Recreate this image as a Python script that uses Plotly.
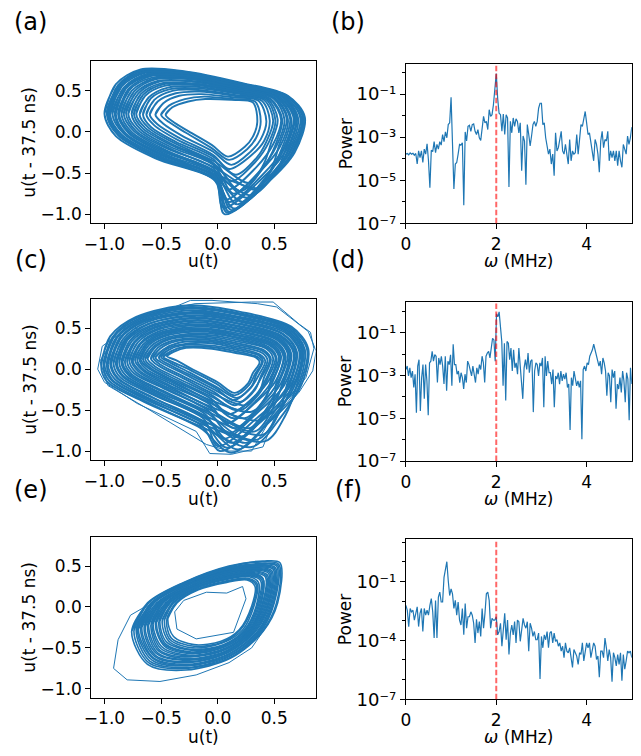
import plotly.graph_objects as go

BLUE = "#1f77b4"
FONT = "DejaVu Sans"
W, H = 641, 756

# ---------------- power spectra: log10(power), evenly spaced over 0..5 MHz ----------------
spec_b_log10 = [
    -3.79, -3.76, -3.82, -3.73, -3.79, -3.75, -3.84, -3.76, -4.25, -3.64,
    -3.95, -3.64, -4.18, -3.56, -3.79, -3.31, -4.10, -5.35, -3.61, -3.67,
    -3.21, -3.72, -3.34, -3.56, -3.21, -3.37, -2.88, -3.21, -2.76, -3.03,
    -2.42, -2.34, -1.15, -3.41, -5.41, -4.25, -4.18, -3.79, -3.34, -3.37,
    -3.26, -6.16, -2.76, -3.18, -2.50, -2.45, -2.73, -2.42, -2.39, -2.73,
    -2.88, -2.65, -3.03, -3.15, -2.50, -2.04, -2.34, -2.27, -2.65, -1.73,
    -2.04, -1.96, -1.50, -0.86, -0.05, -1.20, -1.89, -1.96, -2.73, -1.93,
    -2.88, -1.96, -2.11, -5.32, -2.27, -2.80, -2.11, -2.50, -2.15, -2.27,
    -2.80, -2.34, -4.56, -2.95, -3.18, -5.21, -2.42, -2.88, -3.41, -2.95,
    -2.42, -2.27, -2.50, -2.27, -1.66, -1.43, -1.43, -2.42, -2.34, -3.03,
    -3.49, -3.79, -3.56, -4.25, -3.79, -4.79, -2.80, -3.64, -3.49, -3.03,
    -2.73, -3.64, -3.79, -3.34, -3.72, -4.25, -3.11, -4.10, -3.64, -3.79,
    -3.72, -2.88, -3.79, -3.18, -2.42, -2.50, -2.19, -1.81, -2.34, -2.88,
    -2.80, -3.18, -3.64, -4.10, -3.11, -3.34, -3.79, -4.63, -3.18, -2.73,
    -3.49, -3.11, -3.18, -2.73, -4.10, -3.64, -3.95, -3.64, -4.10, -3.64,
    -4.33, -3.64, -4.10, -4.40, -3.34, -3.64, -3.79, -2.95, -3.34, -3.03,
    -2.54,
]

spec_d_log10 = [
    -2.72, -2.56, -3.02, -2.64, -3.10, -2.79, -3.56, -2.94, -4.74, -2.56,
    -2.26, -4.66, -3.10, -2.49, -4.09, -2.49, -3.25, -4.86, -2.41, -2.33,
    -1.87, -2.33, -2.03, -2.10, -3.33, -2.18, -2.49, -2.10, -2.56, -3.40,
    -2.10, -3.71, -2.33, -2.49, -2.03, -3.48, -1.54, -2.49, -2.49, -2.94,
    -2.79, -3.33, -2.87, -3.10, -3.63, -2.94, -3.33, -2.33, -2.49, -2.79,
    -3.02, -2.56, -3.10, -3.33, -2.64, -2.94, -2.49, -2.72, -2.10, -2.41,
    -3.33, -2.10, -1.95, -1.87, -2.18, -1.72, -1.26, -1.34, -2.33, -0.11,
    -0.26, -0.03, -0.72, -1.41, -3.48, -1.49, -4.17, -1.41, -1.49, -2.26,
    -1.72, -2.79, -1.80, -2.64, -2.41, -2.94, -1.72, -2.49, -2.94, -4.09,
    -2.64, -2.26, -2.72, -1.95, -2.87, -2.33, -2.26, -4.71, -2.79, -2.41,
    -2.49, -3.02, -2.41, -2.56, -2.18, -4.48, -2.10, -3.02, -2.33, -2.87,
    -2.87, -3.40, -2.72, -4.48, -3.02, -3.17, -2.87, -3.40, -2.79, -3.25,
    -2.94, -3.17, -2.87, -3.56, -3.40, -5.55, -3.10, -3.48, -2.79, -3.17,
    -3.48, -3.25, -3.56, -3.25, -5.98, -2.72, -2.56, -2.79, -2.41, -2.49,
    -2.10, -1.95, -1.80, -1.54, -1.80, -2.10, -2.33, -2.56, -2.33, -2.94,
    -2.18, -2.41, -2.79, -3.94, -2.87, -3.02, -4.25, -2.72, -3.10, -2.79,
    -4.55, -3.40, -3.63, -3.10, -3.79, -2.79, -3.25, -4.25, -2.87, -3.17,
    -5.09, -2.64, -3.40,
]

spec_f_log10 = [
    -2.22, -2.47, -3.30, -2.38, -2.55, -2.47, -2.97, -2.55, -2.30, -3.30,
    -2.63, -2.38, -3.55, -2.38, -2.72, -2.47, -2.72, -2.22, -1.88, -2.55,
    -3.88, -1.97, -3.88, -1.80, -1.55, -2.05, -2.05, -0.80, -0.47, 0.00,
    -0.97, -1.72, -1.38, -1.63, -2.38, -1.97, -2.72, -2.05, -2.97, -3.22,
    -2.38, -3.72, -2.13, -3.38, -2.80, -2.80, -2.55, -2.72, -3.13, -4.13,
    -2.93, -3.63, -3.05, -3.80, -2.38, -3.38, -2.63, -1.63, -1.55, -1.97,
    -3.38, -2.88, -2.97, -2.97, -2.80, -3.72, -3.55, -3.13, -4.30, -3.30,
    -2.63, -3.97, -2.97, -4.72, -3.63, -3.22, -3.72, -3.05, -4.13, -2.97,
    -3.05, -4.05, -3.47, -2.88, -3.22, -3.38, -3.05, -4.55, -3.13, -3.38,
    -3.80, -3.55, -3.97, -3.97, -3.63, -5.97, -3.80, -4.38, -3.72, -3.97,
    -3.55, -4.38, -3.63, -3.55, -4.13, -3.63, -4.05, -3.97, -4.30, -4.13,
    -4.55, -4.30, -4.88, -4.13, -4.55, -4.63, -4.38, -4.88, -5.38, -4.47,
    -4.63, -4.80, -5.22, -4.63, -4.72, -4.13, -5.05, -4.63, -4.13, -4.38,
    -4.13, -4.88, -4.38, -4.13, -4.30, -4.97, -4.80, -5.88, -4.55, -4.55,
    -4.88, -3.88, -4.38, -5.05, -4.47, -4.88, -6.10, -4.63, -4.88, -5.30,
    -4.72, -5.22, -4.63, -6.05, -4.72, -5.47, -5.05, -4.55, -4.63, -4.55,
    -4.88,
]

DRIVE_FREQ = 2.0  # MHz, dashed reference line

# ---------------- delay embeddings: loops of (u(t), u(t - 37.5 ns)) ----------------
loops_a = [
    [(-1.00, 0.22), (-0.90, 0.58), (-0.68, 0.76), (-0.30, 0.74), (0.20, 0.60), (0.62, 0.44), (0.77, 0.18), (0.68, -0.25), (0.43, -0.63), (0.06, -1.00), (-0.02, -0.60), (-0.55, -0.32), (-0.90, -0.05)],
    [(-0.81, 0.23), (-0.72, 0.48), (-0.53, 0.62), (-0.23, 0.62), (0.17, 0.53), (0.51, 0.41), (0.62, 0.16), (0.55, -0.18), (0.36, -0.50), (0.07, -0.82), (-0.03, -0.45), (-0.45, -0.20), (-0.72, 0.01)],
    [(-0.95, 0.21), (-0.85, 0.55), (-0.64, 0.72), (-0.28, 0.70), (0.19, 0.58), (0.59, 0.43), (0.73, 0.17), (0.64, -0.23), (0.48, -0.54), (0.22, -0.85), (-0.02, -0.56), (-0.52, -0.29), (-0.85, -0.03)],
    [(-0.63, 0.21), (-0.56, 0.39), (-0.40, 0.50), (-0.17, 0.51), (0.15, 0.45), (0.41, 0.39), (0.49, 0.14), (0.43, -0.12), (0.34, -0.32), (0.16, -0.52), (-0.04, -0.30), (-0.35, -0.10), (-0.56, 0.08)],
    [(-0.88, 0.22), (-0.79, 0.52), (-0.59, 0.68), (-0.26, 0.67), (0.18, 0.55), (0.55, 0.42), (0.68, 0.17), (0.60, -0.21), (0.53, -0.45), (0.38, -0.68), (-0.03, -0.51), (-0.49, -0.25), (-0.79, -0.01)],
    [(-0.97, 0.22), (-0.87, 0.57), (-0.66, 0.74), (-0.29, 0.72), (0.20, 0.59), (0.60, 0.44), (0.75, 0.18), (0.66, -0.24), (0.46, -0.58), (0.14, -0.93), (-0.02, -0.58), (-0.54, -0.30), (-0.87, -0.04)],
    [(-0.74, 0.22), (-0.66, 0.45), (-0.48, 0.58), (-0.21, 0.58), (0.16, 0.50), (0.47, 0.40), (0.57, 0.15), (0.51, -0.16), (0.40, -0.44), (0.20, -0.72), (-0.03, -0.39), (-0.41, -0.16), (-0.66, 0.04)],
    [(-0.85, 0.22), (-0.76, 0.50), (-0.56, 0.65), (-0.25, 0.65), (0.18, 0.54), (0.53, 0.42), (0.65, 0.16), (0.58, -0.20), (0.39, -0.53), (0.10, -0.85), (-0.03, -0.48), (-0.47, -0.23), (-0.76, 0.00)],
    [(-0.46, 0.21), (-0.40, 0.30), (-0.26, 0.37), (-0.11, 0.40), (0.12, 0.39), (0.31, 0.36), (0.35, 0.12), (0.31, -0.06), (0.24, -0.18), (0.09, -0.30), (-0.05, -0.16), (-0.26, 0.01), (-0.40, 0.13)],
    [(-0.91, 0.22), (-0.82, 0.53), (-0.61, 0.70), (-0.27, 0.68), (0.19, 0.56), (0.57, 0.43), (0.70, 0.17), (0.62, -0.22), (0.51, -0.50), (0.30, -0.77), (-0.02, -0.53), (-0.50, -0.27), (-0.82, -0.02)],
    [(-0.98, 0.22), (-0.88, 0.57), (-0.67, 0.75), (-0.29, 0.73), (0.20, 0.59), (0.61, 0.44), (0.76, 0.18), (0.67, -0.24), (0.44, -0.61), (0.10, -0.97), (-0.02, -0.59), (-0.54, -0.31), (-0.88, -0.04)],
    [(-0.69, 0.21), (-0.61, 0.42), (-0.44, 0.54), (-0.19, 0.55), (0.16, 0.48), (0.44, 0.40), (0.53, 0.15), (0.47, -0.14), (0.41, -0.38), (0.28, -0.62), (-0.04, -0.35), (-0.39, -0.13), (-0.61, 0.05)],
    [(-0.79, 0.22), (-0.70, 0.47), (-0.52, 0.61), (-0.22, 0.61), (0.17, 0.52), (0.50, 0.41), (0.61, 0.16), (0.54, -0.17), (0.48, -0.43), (0.34, -0.70), (-0.03, -0.43), (-0.44, -0.19), (-0.70, 0.02)],
    [(-0.93, 0.22), (-0.83, 0.54), (-0.62, 0.71), (-0.27, 0.69), (0.19, 0.57), (0.58, 0.43), (0.71, 0.17), (0.63, -0.22), (0.43, -0.58), (0.12, -0.95), (-0.02, -0.54), (-0.51, -0.28), (-0.83, -0.02)],
    [(-0.55, 0.21), (-0.48, 0.35), (-0.34, 0.44), (-0.14, 0.46), (0.14, 0.42), (0.36, 0.38), (0.43, 0.13), (0.38, -0.09), (0.29, -0.24), (0.12, -0.40), (-0.04, -0.24), (-0.31, -0.05), (-0.48, 0.10)],
    [(-0.87, 0.22), (-0.78, 0.51), (-0.58, 0.66), (-0.25, 0.66), (0.18, 0.55), (0.54, 0.42), (0.67, 0.17), (0.59, -0.20), (0.43, -0.54), (0.17, -0.88), (-0.03, -0.49), (-0.48, -0.24), (-0.78, 0.00)],
    [(-0.96, 0.22), (-0.86, 0.56), (-0.65, 0.73), (-0.28, 0.71), (0.19, 0.58), (0.59, 0.43), (0.74, 0.17), (0.65, -0.23), (0.42, -0.60), (0.08, -0.98), (-0.02, -0.56), (-0.53, -0.29), (-0.86, -0.03)],
    [(-0.66, 0.21), (-0.59, 0.41), (-0.42, 0.52), (-0.18, 0.53), (0.15, 0.47), (0.43, 0.39), (0.51, 0.14), (0.45, -0.13), (0.33, -0.37), (0.12, -0.60), (-0.04, -0.33), (-0.37, -0.12), (-0.59, 0.06)],
    [(-0.83, 0.22), (-0.74, 0.49), (-0.55, 0.64), (-0.24, 0.64), (0.18, 0.53), (0.52, 0.42), (0.64, 0.16), (0.57, -0.19), (0.46, -0.50), (0.26, -0.80), (-0.03, -0.47), (-0.46, -0.22), (-0.74, 0.01)],
    [(-0.90, 0.22), (-0.81, 0.53), (-0.60, 0.69), (-0.26, 0.68), (0.19, 0.56), (0.56, 0.43), (0.69, 0.17), (0.61, -0.21), (0.39, -0.57), (0.05, -0.92), (-0.03, -0.52), (-0.50, -0.26), (-0.81, -0.02)],
    [(-0.60, 0.21), (-0.53, 0.37), (-0.37, 0.47), (-0.16, 0.49), (0.14, 0.44), (0.39, 0.38), (0.46, 0.14), (0.41, -0.11), (0.30, -0.28), (0.10, -0.45), (-0.04, -0.28), (-0.33, -0.08), (-0.53, 0.09)],
    [(-0.76, 0.22), (-0.68, 0.46), (-0.50, 0.59), (-0.22, 0.59), (0.17, 0.51), (0.49, 0.41), (0.59, 0.15), (0.52, -0.17), (0.38, -0.46), (0.14, -0.75), (-0.03, -0.41), (-0.42, -0.18), (-0.68, 0.03)],
    [(-0.72, 0.22), (-0.64, 0.44), (-0.47, 0.56), (-0.20, 0.57), (0.16, 0.49), (0.46, 0.40), (0.56, 0.15), (0.49, -0.15), (0.34, -0.43), (0.09, -0.70), (-0.04, -0.38), (-0.40, -0.15), (-0.64, 0.05)],
    [(-0.50, 0.21), (-0.43, 0.32), (-0.29, 0.40), (-0.12, 0.43), (0.13, 0.40), (0.33, 0.37), (0.38, 0.13), (0.34, -0.07), (0.26, -0.21), (0.10, -0.34), (-0.05, -0.20), (-0.28, -0.01), (-0.43, 0.12)],
]

loops_c = [
    [(-1.03, 0.05), (-0.95, 0.40), (-0.72, 0.64), (-0.25, 0.78), (0.20, 0.70), (0.65, 0.52), (0.80, 0.25), (0.72, -0.25), (0.46, -0.64), (0.12, -1.02), (-0.15, -0.72), (-0.65, -0.40), (-0.98, -0.15)],
    [(-0.80, 0.09), (-0.73, 0.33), (-0.54, 0.49), (-0.17, 0.57), (0.18, 0.50), (0.53, 0.37), (0.63, 0.18), (0.56, -0.17), (0.37, -0.48), (0.10, -0.78), (-0.09, -0.50), (-0.47, -0.24), (-0.74, -0.05)],
    [(-0.97, 0.06), (-0.89, 0.38), (-0.67, 0.60), (-0.23, 0.72), (0.19, 0.64), (0.61, 0.48), (0.75, 0.23), (0.67, -0.23), (0.47, -0.61), (0.18, -0.98), (-0.13, -0.66), (-0.60, -0.36), (-0.91, -0.12)],
    [(-0.62, 0.13), (-0.55, 0.27), (-0.41, 0.37), (-0.11, 0.40), (0.17, 0.34), (0.43, 0.25), (0.49, 0.13), (0.43, -0.11), (0.34, -0.31), (0.16, -0.50), (-0.05, -0.32), (-0.34, -0.12), (-0.55, 0.03)],
    [(-0.89, 0.08), (-0.81, 0.35), (-0.61, 0.55), (-0.20, 0.65), (0.19, 0.58), (0.57, 0.43), (0.69, 0.21), (0.62, -0.20), (0.41, -0.55), (0.12, -0.90), (-0.11, -0.58), (-0.54, -0.30), (-0.83, -0.09)],
    [(-0.71, 0.11), (-0.64, 0.30), (-0.48, 0.43), (-0.14, 0.49), (0.17, 0.42), (0.48, 0.31), (0.56, 0.16), (0.49, -0.14), (0.41, -0.37), (0.24, -0.60), (-0.07, -0.41), (-0.41, -0.18), (-0.65, -0.01)],
    [(-1.01, 0.05), (-0.93, 0.39), (-0.71, 0.63), (-0.24, 0.76), (0.20, 0.68), (0.64, 0.51), (0.79, 0.24), (0.71, -0.24), (0.55, -0.60), (0.30, -0.95), (-0.15, -0.70), (-0.64, -0.39), (-0.96, -0.14)],
    [(-0.52, 0.14), (-0.46, 0.24), (-0.33, 0.30), (-0.08, 0.32), (0.16, 0.26), (0.37, 0.18), (0.42, 0.10), (0.36, -0.08), (0.29, -0.23), (0.14, -0.38), (-0.02, -0.23), (-0.26, -0.06), (-0.45, 0.07)],
    [(-0.94, 0.07), (-0.86, 0.37), (-0.65, 0.58), (-0.22, 0.69), (0.19, 0.62), (0.60, 0.46), (0.73, 0.22), (0.65, -0.22), (0.54, -0.54), (0.35, -0.86), (-0.13, -0.63), (-0.58, -0.34), (-0.88, -0.11)],
    [(-0.75, 0.10), (-0.68, 0.31), (-0.50, 0.45), (-0.15, 0.52), (0.18, 0.46), (0.50, 0.33), (0.59, 0.17), (0.52, -0.15), (0.49, -0.39), (0.38, -0.62), (-0.08, -0.45), (-0.43, -0.21), (-0.68, -0.03)],
    [(-0.85, 0.08), (-0.78, 0.34), (-0.59, 0.52), (-0.19, 0.62), (0.19, 0.55), (0.55, 0.40), (0.67, 0.20), (0.59, -0.19), (0.36, -0.52), (0.05, -0.85), (-0.11, -0.55), (-0.52, -0.28), (-0.79, -0.07)],
    [(-0.57, 0.14), (-0.51, 0.25), (-0.37, 0.34), (-0.09, 0.36), (0.16, 0.30), (0.40, 0.22), (0.46, 0.12), (0.39, -0.09), (0.31, -0.27), (0.15, -0.44), (-0.03, -0.28), (-0.30, -0.09), (-0.50, 0.05)],
    [(-1.00, 0.06), (-0.92, 0.39), (-0.69, 0.62), (-0.24, 0.75), (0.20, 0.67), (0.63, 0.50), (0.77, 0.24), (0.69, -0.24), (0.40, -0.62), (0.02, -1.00), (-0.14, -0.69), (-0.62, -0.38), (-0.94, -0.13)],
    [(-0.68, 0.12), (-0.61, 0.29), (-0.45, 0.41), (-0.13, 0.46), (0.17, 0.39), (0.46, 0.29), (0.54, 0.15), (0.47, -0.13), (0.43, -0.33), (0.30, -0.52), (-0.06, -0.38), (-0.38, -0.16), (-0.61, 0.01)],
    [(-0.82, 0.09), (-0.74, 0.33), (-0.56, 0.50), (-0.18, 0.59), (0.18, 0.52), (0.53, 0.38), (0.64, 0.19), (0.57, -0.18), (0.49, -0.47), (0.33, -0.76), (-0.10, -0.51), (-0.49, -0.26), (-0.76, -0.06)],
    [(-0.48, 0.15), (-0.41, 0.22), (-0.30, 0.27), (-0.06, 0.27), (0.15, 0.22), (0.35, 0.15), (0.39, 0.09), (0.33, -0.06), (0.28, -0.19), (0.15, -0.32), (-0.01, -0.18), (-0.23, -0.02), (-0.40, 0.09)],
    [(-0.92, 0.07), (-0.84, 0.36), (-0.63, 0.57), (-0.21, 0.68), (0.19, 0.60), (0.59, 0.45), (0.72, 0.22), (0.64, -0.21), (0.36, -0.58), (0.00, -0.94), (-0.12, -0.61), (-0.56, -0.32), (-0.86, -0.10)],
    [(-0.76, 0.10), (-0.69, 0.31), (-0.52, 0.46), (-0.16, 0.54), (0.18, 0.47), (0.51, 0.34), (0.60, 0.17), (0.53, -0.16), (0.38, -0.44), (0.15, -0.72), (-0.08, -0.46), (-0.45, -0.22), (-0.70, -0.03)],
    [(-0.64, 0.12), (-0.57, 0.27), (-0.42, 0.38), (-0.12, 0.42), (0.17, 0.36), (0.44, 0.26), (0.51, 0.14), (0.44, -0.12), (0.36, -0.31), (0.20, -0.50), (-0.05, -0.34), (-0.35, -0.14), (-0.57, 0.02)],
    [(-0.98, 0.06), (-0.90, 0.38), (-0.68, 0.61), (-0.23, 0.74), (0.20, 0.66), (0.62, 0.49), (0.76, 0.24), (0.69, -0.23), (0.60, -0.56), (0.42, -0.88), (-0.14, -0.67), (-0.61, -0.37), (-0.93, -0.13)],
    [(-0.73, 0.11), (-0.66, 0.30), (-0.49, 0.44), (-0.15, 0.50), (0.17, 0.44), (0.49, 0.32), (0.58, 0.16), (0.51, -0.15), (0.34, -0.40), (0.08, -0.66), (-0.07, -0.43), (-0.42, -0.20), (-0.66, -0.02)],
    [(-0.55, 0.14), (-0.48, 0.24), (-0.35, 0.32), (-0.09, 0.34), (0.16, 0.28), (0.39, 0.20), (0.44, 0.11), (0.38, -0.09), (0.33, -0.25), (0.20, -0.40), (-0.03, -0.25), (-0.28, -0.07), (-0.47, 0.06)],
    [(-0.87, 0.08), (-0.80, 0.35), (-0.60, 0.53), (-0.20, 0.63), (0.19, 0.56), (0.56, 0.41), (0.68, 0.20), (0.61, -0.20), (0.55, -0.50), (0.40, -0.80), (-0.11, -0.57), (-0.53, -0.29), (-0.81, -0.08)],
    [(-0.59, 0.13), (-0.53, 0.26), (-0.39, 0.35), (-0.10, 0.38), (0.16, 0.32), (0.41, 0.23), (0.47, 0.12), (0.41, -0.10), (0.37, -0.27), (0.24, -0.44), (-0.04, -0.30), (-0.32, -0.10), (-0.52, 0.04)],
    [(-0.95, 0.07), (-0.87, 0.37), (-0.66, 0.59), (-0.22, 0.70), (0.19, 0.63), (0.61, 0.47), (0.74, 0.23), (0.66, -0.22), (0.41, -0.59), (0.08, -0.96), (-0.13, -0.64), (-0.59, -0.34), (-0.89, -0.11)],
    [(-0.69, 0.11), (-0.63, 0.29), (-0.46, 0.42), (-0.14, 0.47), (0.17, 0.41), (0.47, 0.30), (0.55, 0.15), (0.48, -0.14), (0.35, -0.37), (0.14, -0.60), (-0.06, -0.40), (-0.39, -0.17), (-0.63, 0.00)],
    [(-0.78, 0.10), (-0.71, 0.32), (-0.53, 0.48), (-0.17, 0.55), (0.18, 0.49), (0.52, 0.36), (0.62, 0.18), (0.54, -0.17), (0.45, -0.44), (0.28, -0.72), (-0.09, -0.48), (-0.46, -0.23), (-0.72, -0.04)],
    [(-0.50, 0.15), (-0.44, 0.23), (-0.32, 0.29), (-0.07, 0.29), (0.16, 0.24), (0.36, 0.17), (0.40, 0.10), (0.34, -0.07), (0.30, -0.21), (0.17, -0.35), (-0.02, -0.21), (-0.25, -0.04), (-0.42, 0.08)],
    [(-0.90, 0.07), (-0.82, 0.36), (-0.62, 0.55), (-0.21, 0.66), (0.19, 0.59), (0.58, 0.43), (0.70, 0.21), (0.63, -0.21), (0.48, -0.56), (0.25, -0.90), (-0.12, -0.59), (-0.55, -0.31), (-0.84, -0.09)],
    [(-0.66, 0.12), (-0.59, 0.28), (-0.44, 0.39), (-0.12, 0.44), (0.17, 0.38), (0.45, 0.27), (0.52, 0.14), (0.46, -0.12), (0.32, -0.34), (0.10, -0.55), (-0.06, -0.36), (-0.37, -0.15), (-0.59, 0.01)],
    [(-0.84, 0.09), (-0.76, 0.34), (-0.57, 0.51), (-0.18, 0.60), (0.18, 0.53), (0.54, 0.39), (0.65, 0.19), (0.58, -0.18), (0.44, -0.50), (0.22, -0.82), (-0.10, -0.53), (-0.50, -0.27), (-0.78, -0.06)],
    [(-0.45, 0.16), (-0.39, 0.21), (-0.28, 0.26), (-0.05, 0.25), (0.15, 0.20), (0.34, 0.14), (0.37, 0.08), (0.31, -0.05), (0.27, -0.17), (0.15, -0.29), (0.00, -0.16), (-0.21, -0.01), (-0.37, 0.11)],
]

outliers_c = [
    [(-0.60, 0.30), (-0.75, 0.55), (-0.45, 0.72), (-0.24, 0.84), (-0.05, 0.84), (0.35, 0.80), (0.52, 0.76), (0.80, 0.46), (0.87, 0.22), (0.84, -0.02), (0.72, -0.28), (0.50, -0.60), (0.40, -0.95), (0.12, -1.04), (-0.07, -1.03), (-0.19, -0.76), (-0.71, -0.42), (-1.00, -0.16), (-1.06, 0.00), (-1.02, 0.28), (-0.85, 0.45)],
    [(-0.90, 0.30), (-0.80, 0.58), (-0.55, 0.70), (-0.20, 0.80), (0.30, 0.82), (0.49, 0.82), (0.72, 0.55), (0.82, 0.45), (0.85, 0.25), (0.78, -0.10), (0.62, -0.40), (0.45, -0.65), (0.30, -1.00), (0.10, -1.00), (-0.10, -0.92), (-0.60, -0.50), (-0.97, -0.20), (-1.04, 0.10), (-0.95, 0.30)],
]

loops_e = [
    [(-0.76, -0.30), (-0.62, 0.05), (-0.30, 0.30), (0.10, 0.50), (0.40, 0.56), (0.55, 0.54), (0.53, 0.05), (0.40, -0.30), (0.12, -0.62), (-0.28, -0.77), (-0.62, -0.70)],
    [(-0.62, -0.23), (-0.51, 0.05), (-0.24, 0.26), (0.09, 0.42), (0.34, 0.46), (0.46, 0.42), (0.43, 0.03), (0.31, -0.29), (0.08, -0.54), (-0.25, -0.64), (-0.53, -0.56)],
    [(-0.72, -0.28), (-0.59, 0.05), (-0.29, 0.29), (0.10, 0.48), (0.38, 0.53), (0.53, 0.51), (0.50, 0.05), (0.38, -0.30), (0.11, -0.60), (-0.27, -0.74), (-0.60, -0.66)],
    [(-0.51, -0.17), (-0.42, 0.05), (-0.20, 0.23), (0.09, 0.35), (0.29, 0.38), (0.38, 0.32), (0.35, 0.02), (0.24, -0.29), (0.05, -0.47), (-0.22, -0.53), (-0.45, -0.43)],
    [(-0.68, -0.26), (-0.56, 0.05), (-0.27, 0.28), (0.10, 0.45), (0.36, 0.50), (0.50, 0.47), (0.47, 0.04), (0.35, -0.30), (0.10, -0.57), (-0.26, -0.70), (-0.57, -0.62)],
    [(-0.57, -0.20), (-0.46, 0.05), (-0.22, 0.25), (0.09, 0.38), (0.31, 0.42), (0.42, 0.37), (0.39, 0.02), (0.28, -0.29), (0.07, -0.50), (-0.24, -0.59), (-0.49, -0.49)],
    [(-0.74, -0.29), (-0.61, 0.05), (-0.29, 0.30), (0.10, 0.49), (0.39, 0.55), (0.54, 0.52), (0.52, 0.05), (0.39, -0.30), (0.12, -0.61), (-0.28, -0.75), (-0.61, -0.68)],
    [(-0.45, -0.15), (-0.37, 0.05), (-0.17, 0.22), (0.08, 0.31), (0.26, 0.34), (0.34, 0.27), (0.31, 0.01), (0.20, -0.28), (0.04, -0.43), (-0.21, -0.48), (-0.41, -0.38)],
    [(-0.70, -0.27), (-0.57, 0.05), (-0.27, 0.28), (0.10, 0.46), (0.37, 0.51), (0.51, 0.48), (0.48, 0.04), (0.36, -0.30), (0.10, -0.58), (-0.27, -0.71), (-0.57, -0.63)],
    [(-0.59, -0.22), (-0.49, 0.05), (-0.23, 0.25), (0.09, 0.40), (0.33, 0.44), (0.44, 0.39), (0.41, 0.03), (0.29, -0.29), (0.07, -0.52), (-0.24, -0.61), (-0.51, -0.53)],
    [(-0.65, -0.25), (-0.53, 0.05), (-0.26, 0.27), (0.09, 0.43), (0.35, 0.48), (0.48, 0.44), (0.45, 0.04), (0.33, -0.29), (0.09, -0.55), (-0.26, -0.67), (-0.55, -0.59)],
    [(-0.49, -0.17), (-0.40, 0.05), (-0.19, 0.23), (0.09, 0.34), (0.28, 0.37), (0.36, 0.30), (0.34, 0.01), (0.23, -0.29), (0.05, -0.46), (-0.22, -0.52), (-0.43, -0.42)],
    [(-0.71, -0.27), (-0.58, 0.05), (-0.28, 0.29), (0.10, 0.47), (0.38, 0.52), (0.52, 0.50), (0.49, 0.04), (0.37, -0.30), (0.11, -0.59), (-0.27, -0.72), (-0.58, -0.65)],
    [(-0.55, -0.20), (-0.45, 0.05), (-0.21, 0.24), (0.09, 0.37), (0.31, 0.41), (0.40, 0.35), (0.38, 0.02), (0.27, -0.29), (0.06, -0.49), (-0.23, -0.57), (-0.47, -0.48)],
    [(-0.67, -0.25), (-0.54, 0.05), (-0.26, 0.27), (0.09, 0.44), (0.36, 0.49), (0.49, 0.46), (0.46, 0.04), (0.34, -0.29), (0.09, -0.56), (-0.26, -0.68), (-0.56, -0.60)],
    [(-0.44, -0.14), (-0.36, 0.05), (-0.17, 0.21), (0.08, 0.30), (0.26, 0.33), (0.33, 0.25), (0.30, 0.01), (0.19, -0.28), (0.03, -0.42), (-0.21, -0.46), (-0.39, -0.36)],
    [(-0.61, -0.22), (-0.50, 0.05), (-0.24, 0.26), (0.09, 0.41), (0.33, 0.45), (0.45, 0.41), (0.42, 0.03), (0.30, -0.29), (0.08, -0.53), (-0.25, -0.63), (-0.52, -0.54)],
    [(-0.52, -0.18), (-0.43, 0.05), (-0.20, 0.23), (0.09, 0.35), (0.29, 0.39), (0.39, 0.33), (0.36, 0.02), (0.25, -0.29), (0.05, -0.47), (-0.23, -0.55), (-0.46, -0.45)],
    [(-0.64, -0.24), (-0.52, 0.05), (-0.25, 0.27), (0.09, 0.43), (0.35, 0.47), (0.47, 0.43), (0.44, 0.03), (0.32, -0.29), (0.09, -0.55), (-0.25, -0.65), (-0.54, -0.57)],
    [(-0.47, -0.16), (-0.39, 0.05), (-0.18, 0.22), (0.08, 0.32), (0.27, 0.35), (0.35, 0.28), (0.32, 0.01), (0.22, -0.28), (0.04, -0.44), (-0.22, -0.50), (-0.42, -0.40)],
    [(-0.58, -0.21), (-0.48, 0.05), (-0.23, 0.25), (0.09, 0.39), (0.32, 0.43), (0.43, 0.38), (0.40, 0.03), (0.29, -0.29), (0.07, -0.51), (-0.24, -0.60), (-0.50, -0.51)],
    [(-0.54, -0.19), (-0.44, 0.05), (-0.21, 0.24), (0.09, 0.36), (0.30, 0.40), (0.40, 0.34), (0.37, 0.02), (0.26, -0.29), (0.06, -0.48), (-0.23, -0.56), (-0.47, -0.46)],
]

inner_e = [(-0.38, -0.06), (-0.36, -0.27), (-0.19, -0.39), (0.14, -0.31), (0.25, 0.10), (0.22, 0.25), (0.08, 0.17), (-0.10, 0.18), (-0.30, 0.08), (-0.38, -0.06)]
outlier_e = [(-0.62, 0.02), (-0.77, -0.10), (-0.88, -0.40), (-0.92, -0.75), (-0.80, -0.89), (-0.51, -0.91), (-0.19, -0.83), (0.10, -0.68), (0.30, -0.50), (0.45, -0.20)]

# ---------------- axis ranges / ticks ----------------
PHASE_XRANGE = [-1.116, 0.865]
PHASE_YRANGE = [-1.111, 0.857]
PHASE_TICKS = [-1.0, -0.5, 0.0, 0.5]
PHASE_TICKTEXT = ["\u22121.0", "\u22120.5", "0.0", "0.5"]
FREQ_RANGE = [0, 5]
FREQ_TICKS = [0, 2, 4]
LOG_RANGE_B = [-7, 0.40]
LOG_RANGE_D = [-7, 0.45]
LOG_RANGE_F = [-7, 1.13]
DECADES_BD = [-7, -5, -3, -1]
DECADES_F = [-7, -4, -1]

SUPERSCRIPT = str.maketrans("-0123456789", "\u207b\u2070\u00b9\u00b2\u00b3\u2074\u2075\u2076\u2077\u2078\u2079")


def closed_loops(loops):
    """Each loop is closed on itself (wrapping two vertices for a smooth seam);
    separate loops are split by a gap."""
    xs, ys = [], []
    for loop in loops:
        for x, y in loop + loop[:2]:
            xs.append(x)
            ys.append(y)
        xs.append(None)
        ys.append(None)
    return xs, ys


def polylines(paths):
    xs, ys = [], []
    for path in paths:
        for x, y in path:
            xs.append(x)
            ys.append(y)
        xs.append(None)
        ys.append(None)
    return xs, ys


def freq_grid(n):
    return [FREQ_RANGE[1] * i / (n - 1) for i in range(n)]


def pow10(vals):
    return [10.0 ** v for v in vals]


def decade_label(e):
    return "10" + str(e).translate(SUPERSCRIPT)


fig = go.Figure()

# phase portraits
for loops, extra, ax, lw in [
    (loops_a, [], ("x", "y"), 1.9),
    (loops_c, outliers_c, ("x3", "y3"), 1.9),
    (loops_e, [outlier_e, inner_e], ("x5", "y5"), 1.6),
]:
    if extra:
        ex, ey = polylines(extra)
        fig.add_trace(go.Scatter(x=ex, y=ey, mode="lines", xaxis=ax[0], yaxis=ax[1],
                                 line=dict(color=BLUE, width=1.0), hoverinfo="skip"))
    lx, ly = closed_loops(loops)
    fig.add_trace(go.Scatter(x=lx, y=ly, mode="lines", xaxis=ax[0], yaxis=ax[1],
                             line=dict(color=BLUE, width=lw, shape="spline", smoothing=0.9),
                             connectgaps=False, hoverinfo="skip"))

# spectra
for spec, ax in [(spec_b_log10, ("x2", "y2")), (spec_d_log10, ("x4", "y4")), (spec_f_log10, ("x6", "y6"))]:
    fig.add_trace(go.Scatter(x=freq_grid(len(spec)), y=pow10(spec), mode="lines",
                             xaxis=ax[0], yaxis=ax[1], line=dict(color=BLUE, width=1.2),
                             hoverinfo="skip"))


def px_x(p):
    return p / W


def px_y(p):
    return 1 - p / H


left_dom = [px_x(85.3), px_x(312.0)]
right_dom = [px_x(403.3), px_x(631.7)]
rows_left = [(62.3, 226.3), (303.0, 466.3), (544.0, 707.3)]
rows_right = [(64.7, 226.3), (305.7, 467.3), (546.7, 708.7)]

axis_common = dict(showline=True, linecolor="black", linewidth=1.2, mirror=True,
                   ticks="outside", ticklen=5, tickwidth=1.1, tickcolor="black",
                   showgrid=False, zeroline=False,
                   tickfont=dict(family=FONT, size=17, color="black"))

layout = dict(width=W, height=H, margin=dict(l=0, r=0, t=0, b=0),
              paper_bgcolor="white", plot_bgcolor="white", showlegend=False,
              font=dict(family=FONT, size=17, color="black"))

log_ranges = [LOG_RANGE_B, LOG_RANGE_D, LOG_RANGE_F]
log_decades = [DECADES_BD, DECADES_BD, DECADES_F]
for r in range(3):
    li = 2 * r + 1
    ri = 2 * r + 2
    lname = "" if li == 1 else str(li)
    rname = str(ri)
    top, bot = rows_left[r]
    layout["xaxis" + lname] = dict(axis_common, domain=left_dom, anchor="y" + lname,
                                   range=PHASE_XRANGE, tickmode="array",
                                   tickvals=PHASE_TICKS, ticktext=PHASE_TICKTEXT)
    layout["yaxis" + lname] = dict(axis_common, domain=[px_y(bot), px_y(top)], anchor="x" + lname,
                                   range=PHASE_YRANGE, tickmode="array",
                                   tickvals=PHASE_TICKS, ticktext=PHASE_TICKTEXT)
    top, bot = rows_right[r]
    dec = log_decades[r]
    lr = log_ranges[r]
    minor_vals = [10.0 ** k for k in range(-7, 2) if k not in dec and k <= lr[1]]
    layout["xaxis" + rname] = dict(axis_common, domain=right_dom, anchor="y" + rname,
                                   range=FREQ_RANGE, tickmode="array", tickvals=FREQ_TICKS,
                                   ticktext=[str(v) for v in FREQ_TICKS])
    layout["yaxis" + rname] = dict(axis_common, domain=[px_y(bot), px_y(top)], anchor="x" + rname,
                                   type="log", range=lr, tickmode="array",
                                   tickvals=[10.0 ** k for k in dec],
                                   ticktext=[decade_label(k) for k in dec],
                                   tickfont=dict(family=FONT, size=18, color="black"),
                                   minor=dict(tickmode="array", tickvals=minor_vals,
                                              ticks="outside", ticklen=3, tickcolor="black",
                                              tickwidth=0.8, showgrid=False))

fig.update_layout(**layout)

# dashed marker at the drive frequency
for r in range(3):
    ri = str(2 * r + 2)
    fig.add_shape(type="line", xref="x" + ri, yref="y" + ri + " domain",
                  x0=DRIVE_FREQ, x1=DRIVE_FREQ, y0=0, y1=1,
                  line=dict(color="rgba(255,0,0,0.6)", width=2, dash="5.5px,2.5px"))

# panel letters and axis titles
ann = []
letters = ["(a)", "(b)", "(c)", "(d)", "(e)", "(f)"]
letter_y = [22, 22, 263, 263, 497, 497]
letter_x = [24, 345, 24, 345, 24, 345]
for t, xx, yy in zip(letters, letter_x, letter_y):
    ann.append(dict(text=t, x=px_x(xx), y=px_y(yy), xref="paper", yref="paper",
                    showarrow=False, xanchor="center", yanchor="middle",
                    font=dict(family=FONT, size=24, color="black")))
xtitle_y = [265, 506, 747]
for r in range(3):
    ann.append(dict(text="u(t)", x=(left_dom[0] + left_dom[1]) / 2, y=px_y(xtitle_y[r]),
                    xref="paper", yref="paper", showarrow=False, xanchor="center", yanchor="middle",
                    font=dict(family=FONT, size=17, color="black")))
    ann.append(dict(text="<i>ω</i> (MHz)", x=(right_dom[0] + right_dom[1]) / 2, y=px_y(xtitle_y[r]),
                    xref="paper", yref="paper", showarrow=False, xanchor="center", yanchor="middle",
                    font=dict(family=FONT, size=17, color="black")))
    top, bot = rows_left[r]
    ann.append(dict(text="u(t - 37.5 ns)", x=px_x(22.5), y=px_y((top + bot) / 2),
                    xref="paper", yref="paper", showarrow=False, textangle=-90,
                    xanchor="center", yanchor="middle",
                    font=dict(family=FONT, size=17, color="black")))
    top, bot = rows_right[r]
    ann.append(dict(text="Power", x=px_x(342.5), y=px_y((top + bot) / 2),
                    xref="paper", yref="paper", showarrow=False, textangle=-90,
                    xanchor="center", yanchor="middle",
                    font=dict(family=FONT, size=17, color="black")))
fig.update_layout(annotations=ann)

fig.write_html("out.html")
